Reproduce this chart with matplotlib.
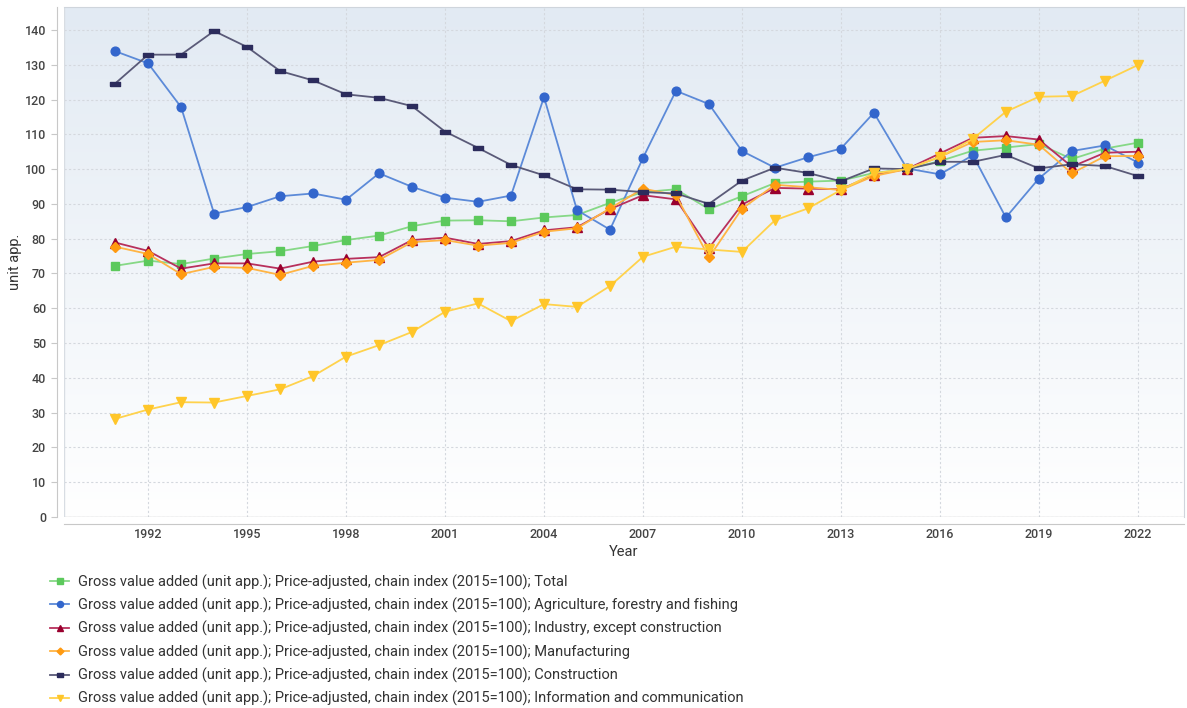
import numpy as np
import matplotlib
matplotlib.use("Agg")
import matplotlib.pyplot as plt

plt.rcParams['font.family'] = ['Roboto', 'DejaVu Sans']

# Data
years = list(range(1991, 2023))
total = [72.2, 73.7, 72.7, 74.3, 75.6, 76.4, 77.9, 79.6, 80.9, 83.6, 85.2, 85.3, 85.0, 86.1, 86.8, 90.3,
         93.4, 94.2, 88.5, 92.2, 96.0, 96.4, 96.7, 98.9, 100.0, 102.3, 105.3, 106.2, 107.2, 102.9, 105.9, 107.6]
agriculture = [133.9, 130.4, 117.8, 87.2, 89.1, 92.2, 93.0, 91.2, 98.8, 94.9, 91.8, 90.6, 92.4, 120.7, 88.2, 82.6,
               103.2, 122.5, 118.7, 105.2, 100.4, 103.4, 105.9, 116.2, 100.2, 98.5, 104.0, 86.1, 97.3, 105.2, 106.8, 101.9]
industry = [78.9, 76.5, 71.4, 72.9, 72.9, 71.4, 73.4, 74.2, 74.7, 79.6, 80.3, 78.5, 79.3, 82.4, 83.3, 88.5,
            92.5, 91.3, 77.3, 89.8, 94.6, 94.4, 94.2, 98.4, 100.0, 104.5, 109.0, 109.5, 108.5, 100.7, 104.7, 105.0]
manufacturing = [77.7, 75.6, 69.8, 71.9, 71.6, 69.6, 72.2, 73.1, 73.9, 79.0, 79.6, 78.0, 78.8, 82.0, 83.0, 88.7,
                 94.4, 92.5, 74.6, 88.6, 95.5, 94.8, 94.0, 98.0, 100.0, 103.5, 107.8, 108.3, 107.0, 98.8, 103.7, 103.8]
construction = [124.6, 132.9, 132.9, 139.7, 135.1, 128.2, 125.5, 121.5, 120.5, 118.1, 110.8, 106.1, 101.2, 98.2, 94.2, 94.1,
                93.4, 93.0, 90.0, 96.7, 100.4, 98.9, 96.5, 100.2, 100.0, 102.1, 102.1, 104.1, 100.2, 101.4, 100.9, 98.0]
ict = [28.2, 30.9, 33.0, 32.9, 34.8, 36.7, 40.5, 46.1, 49.4, 53.2, 59.0, 61.4, 56.3, 61.2, 60.4, 66.4,
       74.8, 77.7, 76.9, 76.2, 85.3, 88.7, 94.0, 98.8, 100.0, 103.5, 108.7, 116.5, 120.8, 121.0, 125.4, 129.9]

prefix = "Gross value added (unit app.); Price-adjusted, chain index (2015=100); "
names = ["Total", "Agriculture, forestry and fishing", "Industry, except construction",
         "Manufacturing", "Construction", "Information and communication"]

flat_box = [(-1, -0.45), (1, -0.45), (1, 0.45), (-1, 0.45), (-1, -0.45)]

series = [
    (total, '#86d886', '#5cc95c', 's', 5.5),
    (agriculture, '#5c8ad8', '#3366cc', 'o', 6.3),
    (industry, '#b8305c', '#99002e', '^', 6.8),
    (manufacturing, '#ffb444', '#ff9a10', 'D', 5.0),
    (construction, '#5a5a78', '#2c2c5c', flat_box, 7.0),
    (ict, '#ffd24c', '#ffc62a', 'v', 6.8),
]

fig = plt.figure(figsize=(11.87, 7.08), dpi=100)
ax = fig.add_axes([64 / 1187, 1 - 517 / 708, 1120 / 1187, 510 / 708])

# gradient background
grad = np.linspace(0, 1, 256).reshape(-1, 1)
top = np.array([0.886, 0.918, 0.953])
bot = np.array([1.0, 1.0, 1.0])
img = top * (1 - grad[..., None]) + bot * grad[..., None]
img = img.reshape(256, 1, 3)
ax.imshow(img, extent=[0, 1, 0, 1], transform=ax.transAxes, aspect='auto', zorder=0)

for i, (vals, lc, mc, mk, ms) in enumerate(series):
    ax.plot(years, vals, color=lc, lw=1.3, marker=mk, markersize=ms,
            markerfacecolor=mc, markeredgecolor=mc, label=prefix + names[i], zorder=3)

ax.set_xlim(1989.45, 2023.4)
ax.set_ylim(0, 146.6)
ax.set_xticks(list(range(1992, 2023, 3)))
ax.set_yticks(list(range(0, 141, 10)))
ax.grid(True, color='#d4d8de', linestyle=(0, (2, 2)), lw=0.8, zorder=1)
ax.set_axisbelow(True)

for s in ['top', 'right']:
    ax.spines[s].set_color('#cfd5dc')
ax.spines['left'].set_color('#c8c8c8')
ax.spines['bottom'].set_color('#c8c8c8')
ax.spines['left'].set_position(('outward', 5))
ax.spines['bottom'].set_position(('outward', 5))
ax.axhline(0, color='#c8c8c8', lw=1.0, zorder=2)
ax.axvline(1989.45, color='#d8dde3', lw=1.0, zorder=2)

ax.tick_params(axis='y', length=4, color='#c8c8c8', labelsize=9, labelcolor='#444444', pad=4)
ax.tick_params(axis='x', length=0, labelsize=9, labelcolor='#444444', pad=3)
for lab in ax.get_xticklabels() + ax.get_yticklabels():
    lab.set_fontweight('medium')

ax.set_ylabel('unit app.', fontsize=10.5, color='#333333')
ax.yaxis.set_label_coords(-42 / 1120, 0.5)
ax.set_xlabel('Year', fontsize=10.5, color='#333333', labelpad=3)

fig.legend(loc='upper left', bbox_to_anchor=(43 / 1187, 1 - 567 / 708), frameon=False,
           fontsize=10.5, handlelength=1.3, handletextpad=0.6, labelspacing=0.55, borderpad=0,
           markerscale=0.7, labelcolor='#333333')

fig.savefig('out.png', dpi=100)
